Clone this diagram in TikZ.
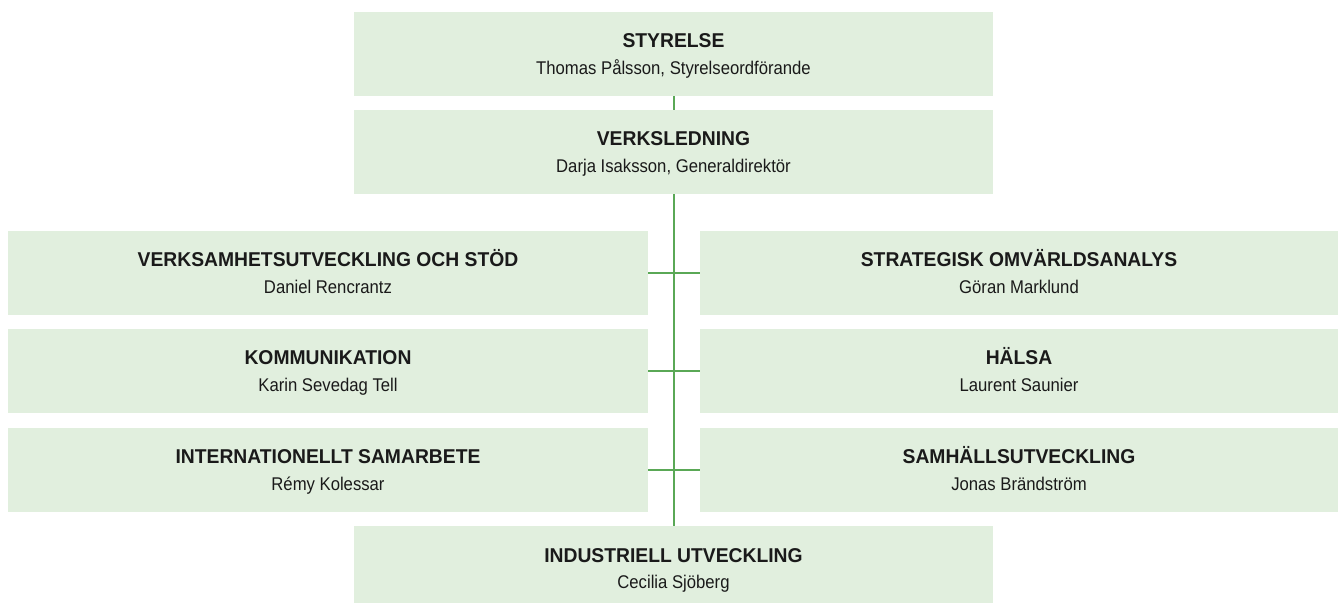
\documentclass[tikz,border=0pt]{standalone}
\usepackage{fontspec}
\setmainfont{Liberation Sans}
\newfontfamily\titlefont{Liberation Sans}[FakeStretch=0.965]
\newfontfamily\namefont{Liberation Sans}[FakeStretch=0.907]
\definecolor{boxfill}{HTML}{E1EFDE}
\definecolor{linegreen}{HTML}{5AA856}
\definecolor{txt}{HTML}{1A1A1A}
\newcommand{\orgtext}[2]{{\titlefont\bfseries\fontsize{10}{13.35}\selectfont #1}\rule{0pt}{11pt}\\{\namefont\fontsize{9.2}{13.35}\selectfont #2}\rule[-3.65pt]{0pt}{3.65pt}}
\begin{document}
\begin{tikzpicture}[x=0.5pt,y=-0.5pt,
  orgbox/.style={fill=boxfill, draw=none, inner sep=0pt, minimum height=42pt,
    align=center, text=txt, font=\fontsize{10}{13.35}\selectfont},
  widebox/.style={orgbox, minimum width=319.5pt},
  sidebox/.style={orgbox, minimum width=320pt},
  conn/.style={draw=linegreen, line width=1pt}]
\useasboundingbox (0,0) rectangle (1338,603);
\begin{scope}
\clip (0,0) rectangle (1338,603);
\node[widebox] (sty) at (673.5,54) {\orgtext{STYRELSE}{Thomas Pålsson, Styrelseordförande}};
\node[widebox] (verk) at (673.5,152) {\orgtext{VERKSLEDNING}{Darja Isaksson, Generaldirektör}};
\node[sidebox] (l1) at (328,273) {\orgtext{VERKSAMHETSUTVECKLING OCH STÖD}{Daniel Rencrantz}};
\node[sidebox] (l2) at (328,371) {\orgtext{KOMMUNIKATION}{Karin Sevedag Tell}};
\node[sidebox] (l3) at (328,470) {\orgtext{INTERNATIONELLT SAMARBETE}{Rémy Kolessar}};
\node[sidebox, minimum width=319pt] (r1) at (1019,273) {\orgtext{STRATEGISK OMVÄRLDSANALYS}{Göran Marklund}};
\node[sidebox, minimum width=319pt] (r2) at (1019,371) {\orgtext{HÄLSA}{Laurent Saunier}};
\node[sidebox, minimum width=319pt] (r3) at (1019,470) {\orgtext{SAMHÄLLSUTVECKLING}{Jonas Brändström}};
\node[widebox] (ind) at (673.5,568) {\orgtext{INDUSTRIELL UTVECKLING}{Cecilia Sjöberg}};
\end{scope}
\draw[conn] (sty.south) -- (verk.north);
\draw[conn] (verk.south) -- (ind.north);
\draw[conn] (l1.east) -- (r1.west);
\draw[conn] (l2.east) -- (r2.west);
\draw[conn] (l3.east) -- (r3.west);
\end{tikzpicture}
\end{document}
